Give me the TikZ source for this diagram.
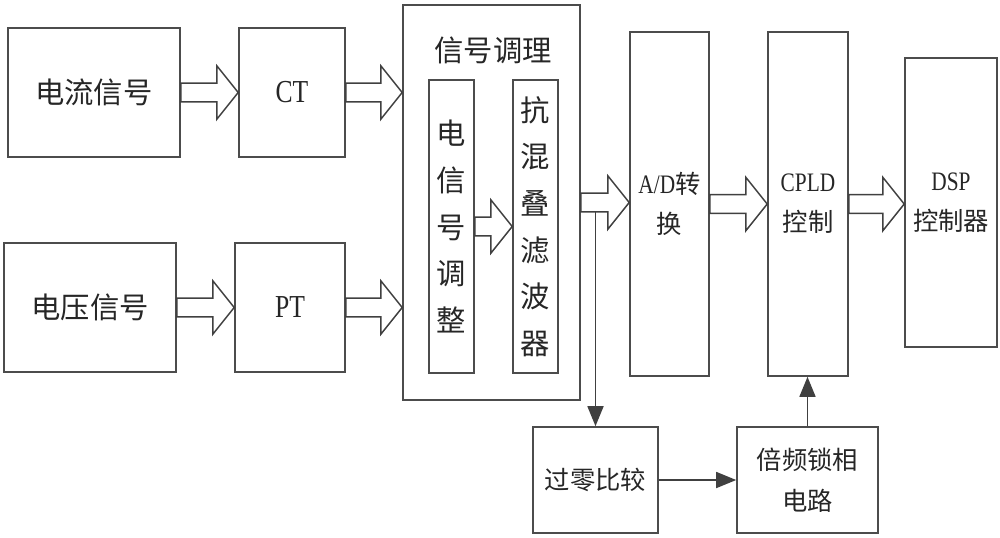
\documentclass[tikz,border=0pt]{standalone}
\usepackage{fontspec}
\setmainfont{Liberation Serif}[FakeStretch=0.8]
\newfontfamily\cjk{Noto Sans CJK SC}
\usetikzlibrary{calc,arrows.meta}
\tikzset{
  box/.style={draw=black!70, line width=1.2pt, fill=white, inner sep=0pt, align=center, text=black!85},
  barrow/.style={draw=black!75, line width=1.1pt, fill=white, line join=miter},
  sarrow/.style={draw=black!75, line width=1.2pt, -{Triangle[length=15pt,width=12pt]}},
  bigcn/.style={font=\cjk\fontsize{22}{26}\selectfont},
  biglat/.style={font=\fontsize{24}{28}\selectfont},
  vtext/.style={font=\cjk\fontsize{22}{35}\selectfont},
  smalltxt/.style={font=\fontsize{20}{30}\selectfont},
  smallcn/.style={font=\cjk\fontsize{19}{31}\selectfont},
}
% \bx{name}{x1}{y1}{x2}{y2}{style}{text}
\newcommand{\bx}[7]{\node[box, #6, minimum width={(#4-#2)*0.75pt}, minimum height={(#5-#3)*0.75pt}]
  (#1) at ({(#2+#4)/2},{(#3+#5)/2}) {#7};}
\newcommand{\blockarr}[2]{\draw[barrow] let \p1=(#1), \p2=(#2) in
  (\x1,\y1+7pt) -- (\x2-16pt,\y1+7pt) -- (\x2-16pt,\y1+20pt) -- (\x2,\y1)
  -- (\x2-16pt,\y1-20pt) -- (\x2-16pt,\y1-7pt) -- (\x1,\y1-7pt) -- cycle;}
\newcommand{\cn}[1]{{\cjk\fontsize{19}{30}\selectfont #1}}
\begin{document}
\begin{tikzpicture}[x=0.75pt,y=-0.75pt]
\useasboundingbox (0,0) rectangle (1000,537);
% left column
\bx{cur}{8}{28}{180}{157}{bigcn}{电流信号}
\bx{ct}{239}{28}{345}{157}{biglat}{CT}
\bx{vol}{4}{243}{176}{372}{bigcn}{电压信号}
\bx{pt}{235}{243}{345}{372}{biglat}{PT}
% signal conditioning
\bx{sig}{403}{5}{580}{400}{}{}
\node[bigcn, text=black!85, inner sep=0pt] (sigt) at (493,50) {信号调理};
\bx{adj}{429}{80}{474}{373}{vtext}{电\\信\\号\\调\\整}
\bx{filt}{513}{80}{558}{373}{vtext}{抗\\混\\叠\\滤\\波\\器}
% right column
\bx{ad}{630}{32}{709}{376}{smalltxt}{A/D\cn{转}\\\cn{换}}
\bx{cpld}{768}{32}{848}{376}{smalltxt}{CPLD\\\cn{控制}}
\bx{dsp}{905}{58}{997}{347}{smalltxt}{DSP\\\cn{控制器}}
% bottom
\bx{zero}{533}{427}{658}{533}{smallcn}{过零比较}
\bx{pll}{737}{427}{878}{533}{smallcn}{倍频锁相\\电路}
% block arrows
\blockarr{cur.east}{ct.west}
\blockarr{vol.east}{pt.west}
\blockarr{ct.east}{ct.east -| sig.west}
\blockarr{pt.east}{pt.east -| sig.west}
\blockarr{adj.east}{adj.east -| filt.west}
\blockarr{sig.east}{sig.east -| ad.west}
\blockarr{ad.east}{ad.east -| cpld.west}
\blockarr{cpld.east}{cpld.east -| dsp.west}
% thin arrows
\coordinate (split) at ($(zero.north |- sig.east)+(0,9)$);
\draw[sarrow] (split) -- (zero.north);
\draw[sarrow] (zero.east) -- (pll.west);
\draw[sarrow] (pll.north) -- (pll.north |- cpld.south);
\end{tikzpicture}
\end{document}
